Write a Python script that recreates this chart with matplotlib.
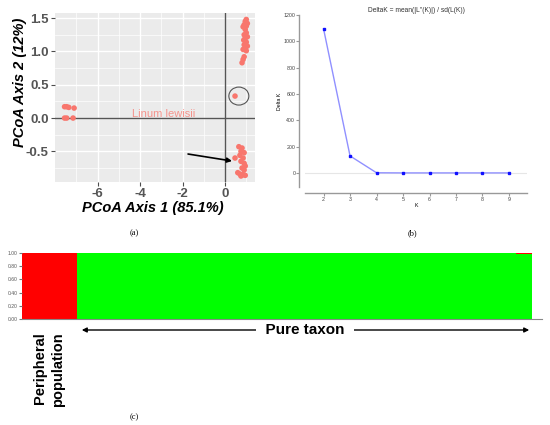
import matplotlib
matplotlib.use('Agg')
import matplotlib.pyplot as plt
from matplotlib.patches import Ellipse, FancyArrowPatch

plt.rcParams['font.family'] = ['Liberation Sans', 'DejaVu Sans']
plt.rcParams['axes.unicode_minus'] = False

W, H = 550, 425

# (a) PCoA coordinates
pc1 = [-7.55, -7.45, -7.35, -7.1, -7.55, -7.45, -7.15,
       1.0, 0.95, 1.05, 0.9, 1.0, 0.85, 0.95, 1.0, 0.9, 1.05, 0.95, 0.88,
       1.0, 0.9, 1.05, 0.95, 0.85, 1.0, 0.9, 0.85, 0.8,
       0.47,
       0.65, 0.8, 0.75, 0.9, 0.7, 0.85, 0.47, 0.75, 0.9, 0.95, 0.8, 0.9,
       0.6, 0.7, 0.85, 0.95, 0.75]
pc2 = [0.17, 0.17, 0.16, 0.15, 0.0, 0.0, 0.0,
       1.48, 1.45, 1.42, 1.40, 1.38, 1.37, 1.33, 1.28, 1.25, 1.22, 1.20, 1.17,
       1.14, 1.10, 1.08, 1.05, 1.03, 1.01, 0.92, 0.88, 0.83,
       0.33,
       -0.43, -0.45, -0.50, -0.52, -0.56, -0.60, -0.60, -0.65, -0.68, -0.72,
       -0.75, -0.78, -0.82, -0.84, -0.85, -0.86, -0.87]

# (b) Evanno delta K
k_values = [2, 3, 4, 5, 6, 7, 8, 9]
delta_k = [1095, 130, 2, 1, 1, 1, 1, 1]

# (c) STRUCTURE membership, K = 2
q_red = [1.0, 1.0, 1.0, 1.0, 1.0, 1.0, 1.0] + [0.0] * 56 + [0.015, 0.015]
q_green = [1 - q for q in q_red]


def box(x0, y0, x1, y1):
    return [x0 / W, 1 - y1 / H, (x1 - x0) / W, (y1 - y0) / H]


def px(x, y):
    return x / W, 1 - y / H


fig = plt.figure(figsize=(5.5, 4.25), dpi=100)

# ---- panel a ----
ax = fig.add_axes(box(55, 13, 255, 182))
ax.set_facecolor('#EBEBEB')
ax.set_xlim(-8.0, 1.41)
ax.set_ylim(-0.96, 1.577)
ax.set_xticks([-6, -4, -2, 0])
ax.set_yticks([-0.5, 0.0, 0.5, 1.0, 1.5])
ax.set_xticks([-7, -5, -3, -1, 1], minor=True)
ax.set_yticks([-0.75, -0.25, 0.25, 0.75, 1.25], minor=True)
ax.grid(which='major', color='white', lw=1.0)
ax.grid(which='minor', color='white', lw=0.5)
ax.set_axisbelow(True)
for s in ax.spines.values():
    s.set_visible(False)
ax.tick_params(which='major', length=3, color='#4D4D4D', labelsize=9.5,
               labelcolor='#555555', pad=1.5)
ax.tick_params(which='minor', length=0)
for lab in ax.get_xticklabels() + ax.get_yticklabels():
    lab.set_fontweight('bold')
ax.axhline(0, color='#555555', lw=1.0)
ax.axvline(0, color='#555555', lw=1.0)
ax.scatter(pc1, pc2, s=16, color='#F8766D', edgecolors='none', zorder=3)
ax.text(-2.9, 0.06, 'Linum lewisii', color='#F8766D', alpha=0.75,
        fontsize=8, ha='center', va='center')
ax.add_patch(Ellipse((0.65, 0.33), 0.94, 0.27, fill=False,
                     edgecolor='#555555', lw=0.8))
ax.annotate('', xy=(0.33, -0.645), xytext=(-1.74, -0.54),
            arrowprops=dict(arrowstyle='-|>', color='black', lw=1.2,
                            mutation_scale=7, shrinkA=0, shrinkB=0))
fig.text(*px(153, 208), 'PCoA Axis 1 (85.1%)', fontsize=10.5,
         fontweight='bold', style='italic', ha='center', va='center')
fig.text(*px(20, 82), 'PCoA Axis 2 (12%)', fontsize=10.5, rotation=90,
         fontweight='bold', style='italic', ha='center', va='center')

# ---- panel b ----
bx = fig.add_axes(box(305, 15, 527, 187))
bx.set_xlim(1.3, 9.68)
bx.set_ylim(-106, 1200)
bx.spines['top'].set_visible(False)
bx.spines['right'].set_visible(False)
bx.spines['left'].set_position(('outward', 4))
bx.spines['bottom'].set_position(('outward', 4))
for s in ['left', 'bottom']:
    bx.spines[s].set_color('#999999')
    bx.spines[s].set_linewidth(1.0)
bx.set_xticks(k_values)
bx.set_yticks([0, 200, 400, 600, 800, 1000, 1200])
bx.tick_params(labelsize=3.8, length=2, color='#999999',
               labelcolor='#444444', pad=1)
bx.axhline(0, color='#E6E6E6', lw=0.8, zorder=0)
bx.plot(k_values, delta_k, color='#9090FF', lw=1.0, marker='s',
        markersize=2.0, markerfacecolor='#1010FF', markeredgecolor='#1010FF')
bx.set_title("DeltaK = mean(|L''(K)|) / sd(L(K))", fontsize=4.8,
             color='#333333', pad=2)
bx.set_xlabel('K', fontsize=3.8, labelpad=1)
bx.set_ylabel('Delta K', fontsize=3.8, labelpad=1)

# ---- panel c ----
cx = fig.add_axes(box(21.7, 253, 542, 319))
idx = list(range(len(q_red)))
cx.bar(idx, q_green, width=1.0, color='#00FF00', linewidth=0)
cx.bar(idx, q_red, bottom=q_green, width=1.0, color='#FF0000', linewidth=0)
cx.set_xlim(-0.5, len(q_red) - 0.5 + 1.3)
cx.set_ylim(0, 1.0)
cx.set_xticks([])
cx.set_yticks([0, 0.2, 0.4, 0.6, 0.8, 1.0])
cx.set_yticklabels(['0.00', '0.20', '0.40', '0.60', '0.80', '1.00'])
cx.tick_params(axis='y', labelsize=3.6, length=2, color='#777777',
               labelcolor='#555555', pad=1)
for s in ['top', 'right', 'left']:
    cx.spines[s].set_visible(False)
cx.spines['bottom'].set_color('#888888')
cx.spines['bottom'].set_linewidth(0.8)

fig.text(*px(39.6, 332), 'Peripheral', rotation=90, fontsize=10.5,
         fontweight='bold', ha='center', va='top')
fig.text(*px(58, 332), 'population', rotation=90, fontsize=10.5,
         fontweight='bold', ha='center', va='top')
fig.patches.append(FancyArrowPatch(
    px(79, 330), px(532, 330), transform=fig.transFigure,
    arrowstyle='<|-|>', mutation_scale=7, color='black', lw=1.0))
fig.text(*px(305, 330), '  Pure taxon  ', fontsize=11, fontweight='bold',
         ha='center', va='center',
         bbox=dict(facecolor='white', edgecolor='none', pad=1))

# panel letters
for x, y, t in [(134, 233, '(a)'), (412, 233, '(b)'), (134, 417, '(c)')]:
    fig.text(*px(x, y), t, fontsize=6, family='Liberation Serif',
             ha='center', va='center')

fig.savefig('out.png', dpi=100)
